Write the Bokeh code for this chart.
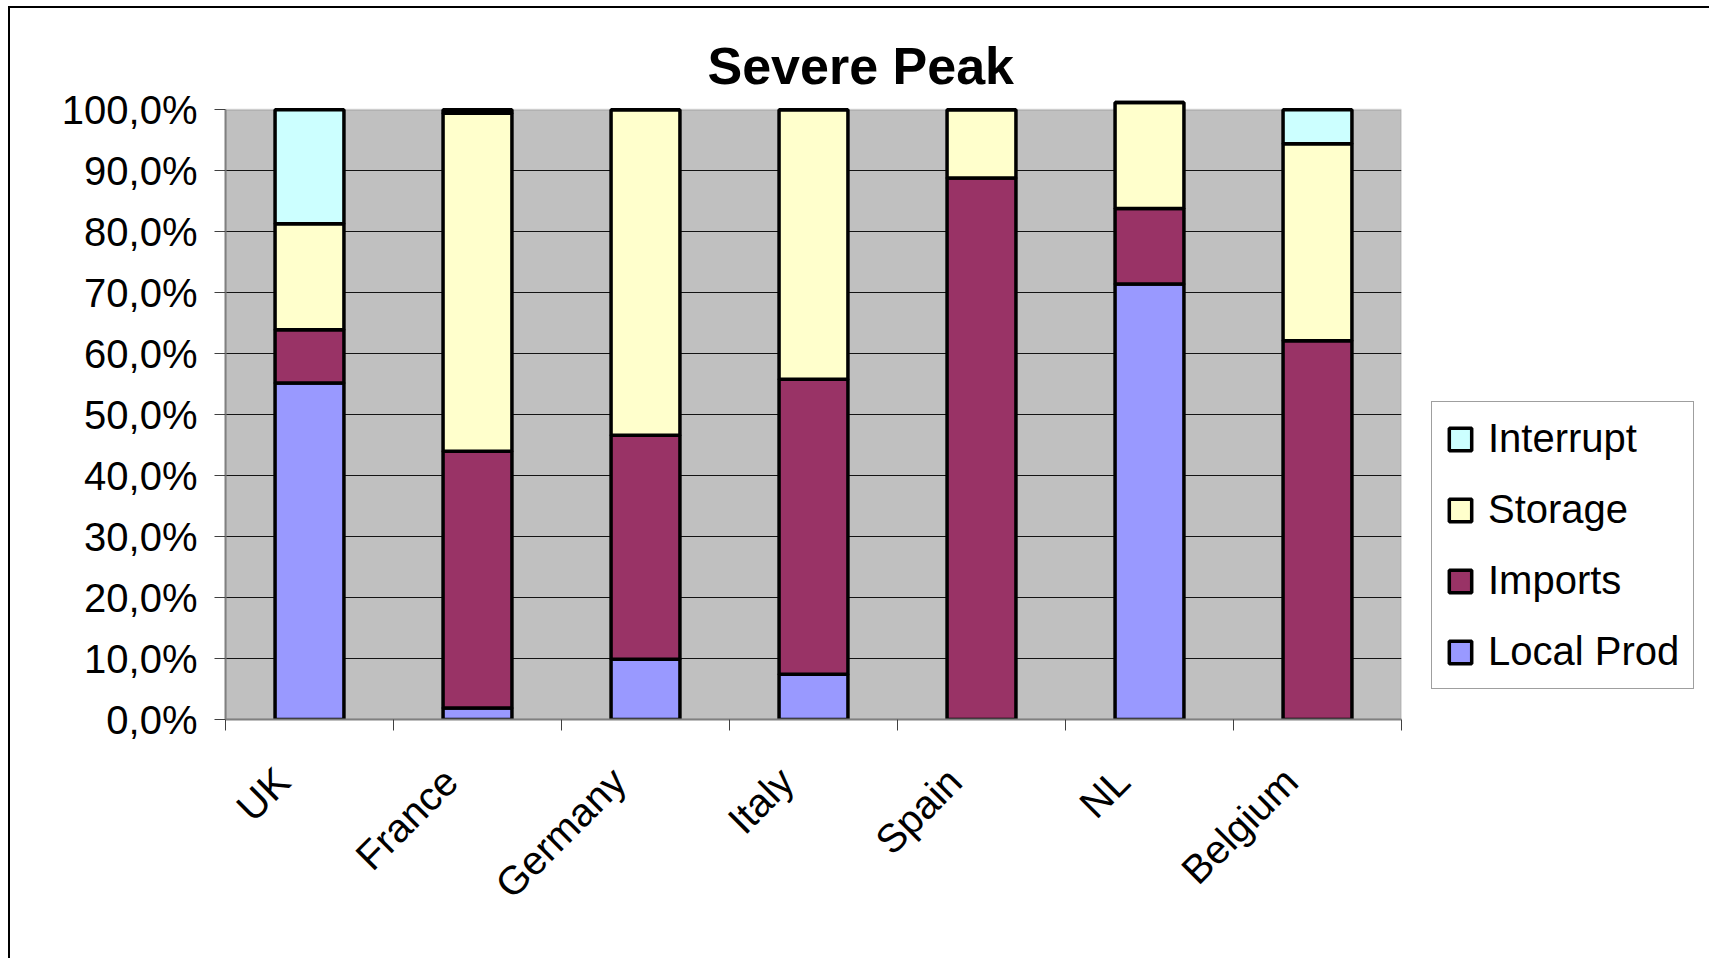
from bokeh.plotting import figure
from bokeh.models import (ColumnDataSource, FixedTicker, Legend, LegendItem,
                          BoxAnnotation, Range1d, Title)
from bokeh.embed import file_html
from bokeh.resources import INLINE
from math import pi

# ---------------- data ----------------
categories = ["UK", "France", "Germany", "Italy", "Spain", "NL", "Belgium"]
local_prod = [55.2, 1.9, 9.9, 7.4, 0.0, 71.4, 0.0]
imports = [8.7, 42.1, 36.7, 48.4, 88.8, 12.4, 62.1]
storage = [17.4, 55.4, 53.4, 44.2, 11.2, 17.4, 32.3]
interrupt = [18.7, 0.6, 0.0, 0.0, 0.0, 0.0, 5.6]
series_names = ["Local Prod", "Imports", "Storage", "Interrupt"]
series_colors = ["#9999FF", "#993366", "#FFFFCC", "#CCFFFF"]
y_ticks = [0, 10, 20, 30, 40, 50, 60, 70, 80, 90, 100]
y_tick_labels = ["0,0%", "10,0%", "20,0%", "30,0%", "40,0%", "50,0%",
                 "60,0%", "70,0%", "80,0%", "90,0%", "100,0%"]
title_text = "Severe Peak"

FONT = "Liberation Sans"

n = len(categories)
x_centers = [i + 0.5 for i in range(n)]
x_bounds = [float(i) for i in range(n + 1)]
label_pos = [round(i + 0.34, 2) for i in range(n)]

source = ColumnDataSource(dict(
    x=x_centers, local=local_prod, imports=imports,
    storage=storage, interrupt=interrupt))

p = figure(frame_width=1176, frame_height=622,
           min_border_left=225, min_border_right=307,
           min_border_top=97, min_border_bottom=239,
           x_range=Range1d(0, n), y_range=Range1d(0, 102),
           output_backend="svg", toolbar_location=None,
           background_fill_color=None, border_fill_color=None,
           outline_line_color=None)

# outer chart frame (left, top, right edges)
p.styles = {"box-shadow": ("inset 8px 0 0 0 #ffffff, inset 0 6px 0 0 #ffffff, "
                           "inset -3px 0 0 0 #ffffff, inset 10px 0 0 0 #000000, "
                           "inset 0 8px 0 0 #000000, inset -5px 0 0 0 #000000")}

# plot area background
p.add_layout(BoxAnnotation(bottom=0, top=100, fill_color="#C0C0C0", fill_alpha=1.0,
                           line_color="#808080", line_width=2, level="image"))

renderers = p.vbar_stack(["local", "imports", "storage", "interrupt"], x="x",
                         width=0.41, source=source, color=series_colors,
                         line_color="black", line_width=3.5)
for r in renderers:
    r.glyph.line_color = "black"

# grid
p.xgrid.visible = False
p.ygrid.ticker = FixedTicker(ticks=y_ticks[1:-1])
p.ygrid.grid_line_color = "#000000"
p.ygrid.grid_line_width = 1.2
p.ygrid.grid_line_alpha = 0.9

# y axis
ya = p.yaxis[0]
ya.ticker = FixedTicker(ticks=y_ticks)
ya.major_label_overrides = {t: l for t, l in zip(y_ticks, y_tick_labels)}
ya.bounds = (0, 100)
ya.axis_line_color = "#808080"
ya.axis_line_width = 2
ya.major_tick_out = 11
ya.major_tick_in = 0
ya.major_tick_line_color = "#404040"
ya.minor_tick_line_color = None
ya.major_label_text_font = FONT
ya.major_label_text_font_size = "40px"
ya.major_label_text_color = "black"
ya.major_label_standoff = 17

# x axis
xa = p.xaxis[0]
xa.ticker = FixedTicker(ticks=label_pos, minor_ticks=x_bounds)
xa.major_label_overrides = {t: c for t, c in zip(label_pos, categories)}
xa.axis_line_color = "#808080"
xa.axis_line_width = 2
xa.major_tick_line_color = None
xa.minor_tick_out = 11
xa.minor_tick_in = 0
xa.minor_tick_line_color = "#404040"
xa.major_label_orientation = pi / 4
xa.major_label_text_font = FONT
xa.major_label_text_font_size = "40px"
xa.major_label_text_color = "black"
xa.major_label_standoff = 44

# title
p.title = Title(text=title_text, align="left", offset=482,
                text_font=FONT, text_font_size="52px", text_font_style="bold",
                text_color="black", standoff=6)

# legend
items = [LegendItem(label=series_names[i], renderers=[renderers[i]])
         for i in reversed(range(len(series_names)))]
legend = Legend(items=items, location=(30, 30),
                label_text_font=FONT, label_text_font_size="40px",
                label_text_color="black",
                glyph_width=28, glyph_height=28, label_standoff=14,
                padding=14, spacing=26, margin=0,
                border_line_color="#404040", border_line_width=1,
                background_fill_color="white", background_fill_alpha=1.0)
p.add_layout(legend, "right")

open("out.html", "w").write(file_html(p, INLINE))
